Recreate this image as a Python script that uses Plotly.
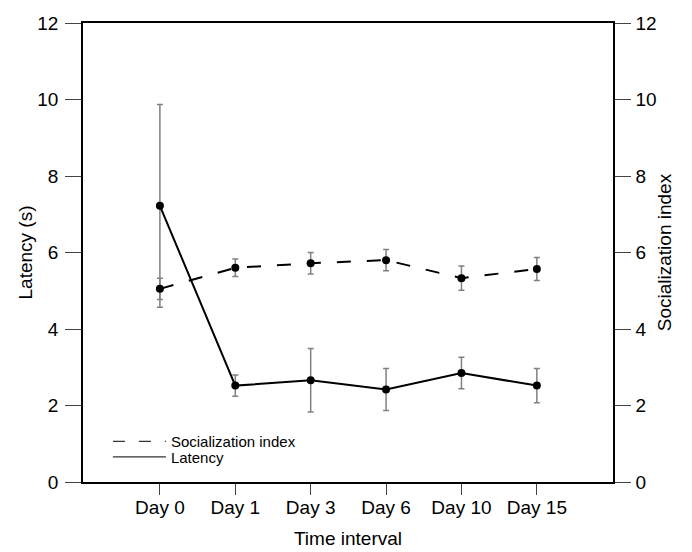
import plotly.graph_objects as go

days = ["Day 0", "Day 1", "Day 3", "Day 6", "Day 10", "Day 15"]
latency = [7.22, 2.52, 2.66, 2.42, 2.85, 2.52]
latency_err = [2.65, 0.28, 0.83, 0.55, 0.41, 0.45]
social = [5.05, 5.60, 5.72, 5.80, 5.33, 5.57]
social_err = [0.28, 0.23, 0.28, 0.28, 0.32, 0.30]
y_ticks = [0, 2, 4, 6, 8, 10, 12]

FONT = "Liberation Sans, Arial, sans-serif"
xpos = list(range(len(days)))
DASH = "14px,16px"

fig = go.Figure()
fig.add_trace(go.Scatter(
    x=xpos, y=social, name="Socialization index", yaxis="y2",
    mode="lines+markers", showlegend=False,
    line=dict(color="black", width=2, dash=DASH),
    marker=dict(color="black", size=8),
    error_y=dict(type="data", array=social_err, color="#808080", thickness=1.5, width=3),
))
fig.add_trace(go.Scatter(
    x=xpos, y=latency, name="Latency", yaxis="y",
    mode="lines+markers", showlegend=False,
    line=dict(color="black", width=2),
    marker=dict(color="black", size=8),
    error_y=dict(type="data", array=latency_err, color="#808080", thickness=1.5, width=3),
))
# legend-only entries (lines without markers, as in the reference)
fig.add_trace(go.Scatter(
    x=[None], y=[None], name="Socialization index", mode="lines",
    line=dict(color="#333", width=1.3, dash="12px,14px"), legend="legend",
))
fig.add_trace(go.Scatter(
    x=[None], y=[None], name="Latency", mode="lines",
    line=dict(color="#333", width=1.3), legend="legend2",
))

def yax(**kw):
    d = dict(
        range=[0, 12], tickvals=y_ticks, showgrid=False, zeroline=False,
        showline=True, linecolor="black", linewidth=1.5, automargin=False,
        ticks="outside", ticklen=16, tickcolor="#444", tickwidth=1.2,
        tickfont=dict(family=FONT, size=19, color="black"),
    )
    d.update(kw)
    return d

leg_common = dict(
    xanchor="left", yanchor="middle",
    bgcolor="rgba(0,0,0,0)", borderwidth=0,
    font=dict(family=FONT, size=15, color="black"),
    itemwidth=53,
)

fig.update_layout(
    width=692, height=552,
    margin=dict(l=83, r=79, t=23, b=70, autoexpand=False),
    paper_bgcolor="white", plot_bgcolor="white",
    font=dict(family=FONT, color="black"),
    xaxis=dict(
        range=[-1.02, 6.01], tickvals=xpos, ticktext=days,
        showgrid=False, zeroline=False, showline=True, mirror=True,
        linecolor="black", linewidth=1.5, automargin=False,
        ticks="outside", ticklen=11, tickcolor="#444", tickwidth=1.2,
        ticklabelstandoff=-4,
        tickfont=dict(family=FONT, size=19, color="black"),
        title=dict(text="Time interval", font=dict(family=FONT, size=19), standoff=15),
    ),
    yaxis=yax(ticklabelstandoff=3,
              title=dict(text="Latency (s)", font=dict(family=FONT, size=19), standoff=0)),
    yaxis2=yax(overlaying="y", side="right", ticklabelstandoff=1,
               title=dict(text="Socialization index", font=dict(family=FONT, size=19), standoff=2)),
    showlegend=True,
    legend=dict(x=0.047, y=0.0878, **leg_common),
    legend2=dict(x=0.047, y=0.054, **leg_common),
)

fig.write_html("out.html")
